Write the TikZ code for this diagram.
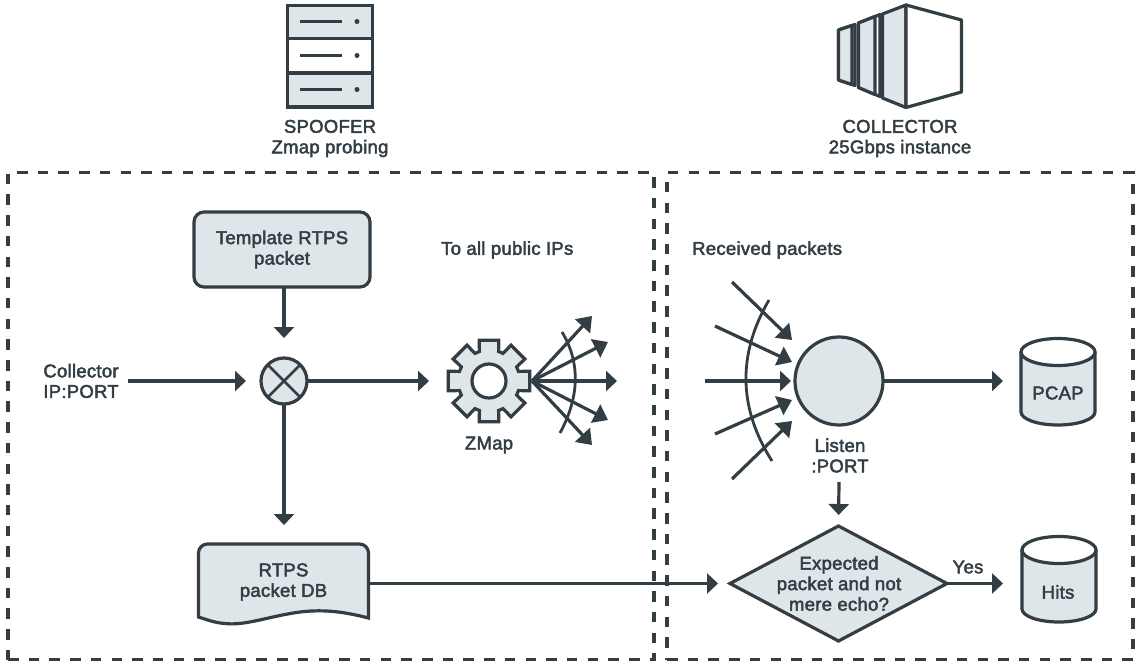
\documentclass[tikz,border=0pt]{standalone}
\usepackage{fontspec}
\setmainfont[FakeBold=2.4,LetterSpace=1.5]{Liberation Sans}
\usetikzlibrary{arrows.meta,shapes.geometric,calc}
\definecolor{ink}{HTML}{333D44}
\definecolor{pale}{HTML}{DFE6E9}
\tikzset{
  x=1pt,y=-1pt,
  ln/.style={draw=ink,line width=3.2pt},
  arw/.style={ln,-{Triangle[length=11pt,width=20pt]}},
  fanarw/.style={ln,-{Triangle[length=14pt,width=20pt]}},
  shp/.style={ln,fill=pale,line join=miter},
  lab/.style={text=ink,align=center,font=\fontsize{18.5}{20.5}\selectfont,inner sep=0pt},
  zone/.style={draw=ink,line width=3.2pt,dash pattern=on 10.5pt off 10.2pt},
  ghost/.style={inner sep=0pt,outer sep=0pt,draw=none},
}
\begin{document}
\begin{tikzpicture}
\path[use as bounding box,fill=white] (0,0) rectangle (1136,664);
% zones
\node[ghost,zone,rectangle,minimum width=646pt,minimum height=487pt] (zoneL) at (331,416) {};
\node[ghost,zone,rectangle,minimum width=466pt,minimum height=487pt] (zoneR) at (900,416) {};
% spoofer icon
\draw[ln,fill=pale] (287.5,5.5) rectangle (372.5,38.5);
\draw[ln,fill=white] (287.5,38.5) rectangle (372.5,73);
\draw[ln,fill=pale] (287.5,73) rectangle (372.5,107);
\foreach \yy in {21.5,55.5,89.5}{
  \draw[ln] (300,\yy) -- (342,\yy);
  \fill[ink] (357,\yy) circle (2.5pt);
}
\node[lab] (spoofer) at (330,138.5) {SPOOFER\\Zmap probing};
% collector icon
\draw[ln,fill=white,line join=round] (838.5,30) -- (855,24.5) -- (855,85.5) -- (838.5,80) -- cycle;
\draw[ln,fill=pale,line join=round] (838.5,30) -- (852,25.5) -- (852,84.5) -- (838.5,80) -- cycle;
\draw[ln,fill=white,line join=round] (858.5,23) -- (880,14.5) -- (880,96.5) -- (858.5,87.5) -- cycle;
\draw[ln,fill=pale,line join=round] (858.5,23) -- (875,16.5) -- (875,94.5) -- (858.5,87.5) -- cycle;
\draw[ln,fill=pale,line join=round] (882.5,14) -- (906,5) -- (906,107.5) -- (882.5,98) -- cycle;
\draw[ln,fill=white,line join=round] (906,5) -- (961.5,20) -- (961.5,92) -- (906,107.5) -- cycle;
\node[lab] (collector) at (900,138.5) {COLLECTOR\\25Gbps instance};
% left zone nodes
\node[shp,rectangle,rounded corners=10pt,minimum width=176pt,minimum height=75pt,outer sep=0pt,lab] (template) at (282,249.5) {Template RTPS\\packet};
\node[shp,circle,minimum size=46pt,inner sep=0pt,outer sep=0pt] (mix) at (284,381) {};
\draw[ln,line width=2.8pt] (mix.north west) -- (mix.south east) (mix.north east) -- (mix.south west);
\node[lab] (ip) at (81,381) {Collector\\IP:PORT};
\node[lab,anchor=west] (allips) at (441,250) {To all public IPs};
\node[ghost,circle,minimum size=86pt] (gear) at (489,381) {};
\draw[shp,line join=miter] ($(489,381)+(-13.5:42)$)
  \foreach \a in {0,45,...,315}{
    -- ($(489,381)+(\a-13.5:42)$) -- ($(489,381)+(\a+13.5:42)$)
    -- ($(489,381)+(\a+18:31)$) -- ($(489,381)+(\a+27:31)$)
  } -- cycle;
\draw[ln,fill=white] (gear.center) circle (17pt);
\node[lab] (zmap) at (489,445) {ZMap};
% RTPS DB
\draw[shp,line join=miter] (198.5,617) -- (198.5,553) arc[start angle=180,end angle=90,radius=9pt] -- (359.5,544) arc[start angle=90,end angle=0,radius=9pt] -- (368.5,618)
  .. controls (345,612) and (325,609) .. (300,612)
  .. controls (270,616) and (245,626) .. (225,623.5)
  .. controls (215,623) and (205,619) .. (198.5,617) -- cycle;
\node[lab,minimum width=170pt,minimum height=76pt,outer sep=0pt] (db) at (283.5,582) {RTPS\\packet DB};
% fan out
\coordinate (f1) at (592,316);
\coordinate (f2) at (608,342);
\coordinate (f3) at (617,381);
\coordinate (f4) at (608,420);
\coordinate (f5) at (592,445);
\foreach \t in {f1,f2,f4,f5}{\draw[fanarw] (gear.east) -- (\t);}
\draw[arw] (gear.east) -- (f3);
\draw[ln,line width=2.8pt] (562,332) .. controls (580.7,363) and (579.3,397.3) .. (560,433);
% right zone
\node[lab,anchor=west] (recv) at (692,250) {Received packets};
\node[shp,circle,minimum size=88pt,inner sep=0pt,outer sep=0pt] (listen) at (839,381) {};
\node[lab] (listent) at (840,455.5) {Listen\\:PORT};
\coordinate (r1a) at (732,282); \coordinate (r1b) at (792,340);
\coordinate (r2a) at (715,326); \coordinate (r2b) at (792,362);
\coordinate (r3a) at (705,381); \coordinate (r3b) at (791,381);
\coordinate (r4a) at (715,434); \coordinate (r4b) at (792,400);
\coordinate (r5a) at (732,479); \coordinate (r5b) at (792,421);
\foreach \k in {1,2,4,5}{\draw[fanarw] (r\k a) -- (r\k b);}
\draw[arw] (r3a) -- (r3b);
\draw[ln,line width=2.8pt] (769,300) .. controls (737.3,354.3) and (738.3,408) .. (772,461);
% cylinders
\node[ghost,minimum width=74pt,minimum height=87pt] (pcap) at (1058,381) {};
\node[ghost,minimum width=74pt,minimum height=87pt] (hits) at (1059,579.5) {};
\foreach \cx/\ty/\by in {1058/352/412, 1059/550/609}{
  \draw[shp,line join=round] (\cx-37,\ty) -- (\cx-37,\by) arc[start angle=180,end angle=360,x radius=37pt,y radius=13pt] -- (\cx+37,\ty) -- cycle;
  \draw[ln,fill=white] (\cx,\ty) ellipse[x radius=37pt,y radius=13.5pt];
}
\node[lab] at (1058,393) (pcapt) {PCAP};
\node[lab] at (1058,592) (hitst) {Hits};
% diamond
\node[shp,diamond,minimum width=217pt,minimum height=115pt,inner sep=0pt,outer sep=0pt] (dec) at (838.5,583.5) {};
\node[lab] (dect) at (839,583.5) {Expected\\packet and not\\mere echo?};
\node[lab] (yes) at (968,567) {Yes};
% connectors
\draw[arw,shorten >=20pt] (mix.north |- template.south) -- (mix.north);
\draw[arw,shorten >=15pt,shorten <=9pt] (ip.east) -- (mix.west);
\draw[arw,shorten >=17pt] (mix.east) -- (gear.west);
\draw[arw,shorten >=19pt] (mix.south) -- (mix.south |- db.north);
\draw[arw,shorten >=12pt] (db.east |- dec.west) -- (dec.west);
\draw[arw,shorten >=18pt] (listen.east) -- (pcap.west);
\draw[arw,shorten >=19pt] (dec.east) -- (hits.west |- dec.east);
\coordinate (lt) at (839,482);
\draw[arw,shorten >=11pt] (lt) -- (dec.north);
\end{tikzpicture}
\end{document}
